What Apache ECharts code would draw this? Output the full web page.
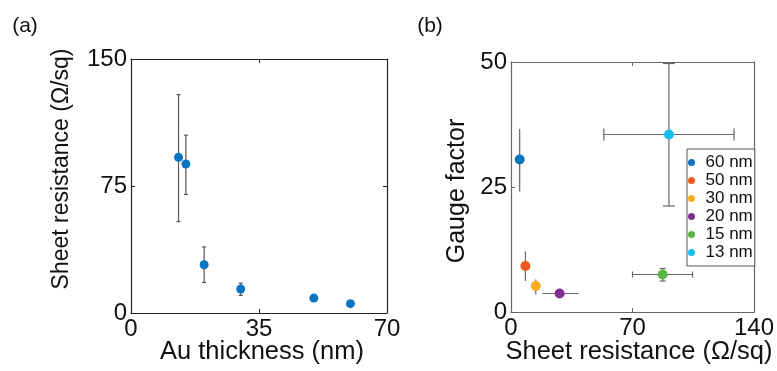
<!DOCTYPE html>
<html>
<head>
<meta charset="utf-8">
<script src="https://cdn.jsdelivr.net/npm/echarts@6/dist/echarts.min.js"></script>
<style>
  html, body { margin: 0; padding: 0; background: #fff; }
  #chart { width: 777px; height: 371px; }
</style>
</head>
<body>
<div id="chart"></div>
<script>
// (a) sheet resistance versus gold thickness
const thicknessNm = [13, 15, 20, 30, 50, 60];
const sheetRes = [92, 88, 28.5, 14.2, 8.8, 5.5];
const sheetResLow = [54, 70, 18, 10.4, null, null];
const sheetResHigh = [129, 105, 39, 17.6, null, null];

// (b) gauge factor versus sheet resistance, one series per thickness
const sampleLabels = ['60 nm', '50 nm', '30 nm', '20 nm', '15 nm', '13 nm'];
const rsValue = [5, 8.3, 14.3, 28, 87.4, 91];
const rsLow = [null, null, 12, 18, 70, 53.5];
const rsHigh = [null, null, 17, 39, 104.6, 128.5];
const gfValue = [30.5, 9.2, 5.2, 3.7, 7.5, 35.5];
const gfLow = [24.1, 6.2, 3.5, null, 6.2, 21.2];
const gfHigh = [36.6, 12.1, 6.5, null, 8.7, 49.7];

// axis ticks
const leftXTicks = [0, 35, 70];
const leftYTicks = [0, 75, 150];
const rightXTicks = [0, 70, 140];
const rightYTicks = [0, 25, 50];

const FONT = '"Liberation Sans", Arial, Helvetica, sans-serif';
const sampleColors = ['#0b72bd', '#ee5a1f', '#f9ac1e', '#7e2f8e', '#5bb543', '#14bff0'];
const capWidth = { '13 nm': 12, '15 nm': 6 };

const chart = echarts.init(document.getElementById('chart'), null, { renderer: 'canvas' });

function frameAxis(kind, gridIndex, ticks, opts) {
  const color = opts.color;
  const base = {
    type: 'value', gridIndex: gridIndex,
    min: ticks[0], max: ticks[ticks.length - 1], interval: ticks[1] - ticks[0],
    splitLine: { show: false },
    axisLine: { show: true, onZero: false, lineStyle: { color: color, width: 1.2 } },
    axisTick: { show: true, inside: true, length: 4, lineStyle: { color: color } },
    axisLabel: { show: !opts.mirror, color: '#111', fontSize: 24, fontFamily: FONT, margin: opts.margin || 4 }
  };
  if (kind === 'x') base.position = opts.mirror ? 'top' : 'bottom';
  else base.position = opts.mirror ? 'right' : 'left';
  return base;
}

// vertical error bar renderer: value = [x, lo, hi]
function vBar(capPx, color, width) {
  return function (params, api) {
    const x = api.value(0), lo = api.value(1), hi = api.value(2);
    const a = api.coord([x, lo]), b = api.coord([x, hi]);
    const style = { stroke: color, lineWidth: width };
    const kids = [{ type: 'line', shape: { x1: a[0], y1: a[1], x2: b[0], y2: b[1] }, style: style }];
    if (capPx > 0) {
      kids.push({ type: 'line', shape: { x1: a[0] - capPx / 2, y1: a[1], x2: a[0] + capPx / 2, y2: a[1] }, style: style });
      kids.push({ type: 'line', shape: { x1: b[0] - capPx / 2, y1: b[1], x2: b[0] + capPx / 2, y2: b[1] }, style: style });
    }
    return { type: 'group', children: kids };
  };
}
// horizontal error bar renderer: value = [y, lo, hi]
function hBar(capPx, color, width) {
  return function (params, api) {
    const y = api.value(0), lo = api.value(1), hi = api.value(2);
    const a = api.coord([lo, y]), b = api.coord([hi, y]);
    const style = { stroke: color, lineWidth: width };
    const kids = [{ type: 'line', shape: { x1: a[0], y1: a[1], x2: b[0], y2: b[1] }, style: style }];
    if (capPx > 0) {
      kids.push({ type: 'line', shape: { x1: a[0], y1: a[1] - capPx / 2, x2: a[0], y2: a[1] + capPx / 2 }, style: style });
      kids.push({ type: 'line', shape: { x1: b[0], y1: b[1] - capPx / 2, x2: b[0], y2: b[1] + capPx / 2 }, style: style });
    }
    return { type: 'group', children: kids };
  };
}

const series = [];

// (a) error bars then points
const leftBars = [];
thicknessNm.forEach(function (t, i) {
  if (sheetResLow[i] != null) leftBars.push([t, sheetResLow[i], sheetResHigh[i]]);
});
series.push({
  type: 'custom', xAxisIndex: 0, yAxisIndex: 0, silent: true, z: 2,
  renderItem: vBar(4, '#555', 1.2),
  encode: { x: 0, y: [1, 2] },
  data: leftBars
});
series.push({
  type: 'scatter', name: 'Sheet resistance', xAxisIndex: 0, yAxisIndex: 0, z: 3,
  symbol: 'circle', symbolSize: 9,
  itemStyle: { color: '#0a74c2', opacity: 1 },
  data: thicknessNm.map(function (t, i) { return [t, sheetRes[i]]; })
});

// (b) error bars and points for each thickness
sampleLabels.forEach(function (label, i) {
  const cap = capWidth[label] || 0;
  if (gfLow[i] != null) {
    series.push({
      type: 'custom', xAxisIndex: 2, yAxisIndex: 2, silent: true, z: 2,
      renderItem: vBar(cap, '#666', 1.2),
      encode: { x: 0, y: [1, 2] },
      data: [[rsValue[i], gfLow[i], gfHigh[i]]]
    });
  }
  if (rsLow[i] != null) {
    series.push({
      type: 'custom', xAxisIndex: 2, yAxisIndex: 2, silent: true, z: 2,
      renderItem: hBar(cap, '#666', 1.2),
      encode: { x: [1, 2], y: 0 },
      data: [[gfValue[i], rsLow[i], rsHigh[i]]]
    });
  }
  series.push({
    type: 'scatter', name: label, xAxisIndex: 2, yAxisIndex: 2, z: 3,
    symbol: 'circle', symbolSize: 10,
    itemStyle: { color: sampleColors[i], opacity: 1 },
    data: [[rsValue[i], gfValue[i]]]
  });
});

function titleText(text, x, y, size, rotate) {
  return {
    type: 'text', x: x, y: y, rotation: rotate ? Math.PI / 2 : 0,
    style: { text: text, fill: '#111', font: size + 'px ' + FONT, align: 'center', verticalAlign: 'middle' }
  };
}

chart.setOption({
  animation: false,
  backgroundColor: '#fff',
  grid: [
    { left: 131, top: 59, width: 256, height: 254 },
    { left: 511, top: 62, width: 252, height: 250 }
  ],
  xAxis: [
    frameAxis('x', 0, leftXTicks, { color: '#222' }),
    frameAxis('x', 0, leftXTicks, { color: '#222', mirror: true }),
    frameAxis('x', 1, rightXTicks, { color: '#666' }),
    frameAxis('x', 1, rightXTicks, { color: '#666', mirror: true })
  ],
  yAxis: [
    frameAxis('y', 0, leftYTicks, { color: '#222' }),
    frameAxis('y', 0, leftYTicks, { color: '#222', mirror: true }),
    frameAxis('y', 1, rightYTicks, { color: '#666' }),
    frameAxis('y', 1, rightYTicks, { color: '#666', mirror: true })
  ],
  legend: {
    data: sampleLabels,
    left: 687, top: 149,
    orient: 'vertical',
    icon: 'circle',
    itemWidth: 18, itemHeight: 7, itemGap: 1,
    padding: [5, 2, 5, 1],
    borderColor: '#555', borderWidth: 1,
    backgroundColor: '#fff',
    textStyle: { fontSize: 17, lineHeight: 16, color: '#111', fontFamily: FONT }
  },
  graphic: [
    titleText('(a)', 25, 26, 21, false),
    titleText('(b)', 430, 26, 21, false),
    titleText('Sheet resistance (\u03A9/sq)', 61.5, 169, 23, true),
    titleText('Au thickness (nm)', 262, 352, 25.5, false),
    titleText('Gauge factor', 457, 191, 25, true),
    titleText('Sheet resistance (\u03A9/sq)', 639, 352, 25.5, false)
  ],
  series: series
});
</script>
</body>
</html>
